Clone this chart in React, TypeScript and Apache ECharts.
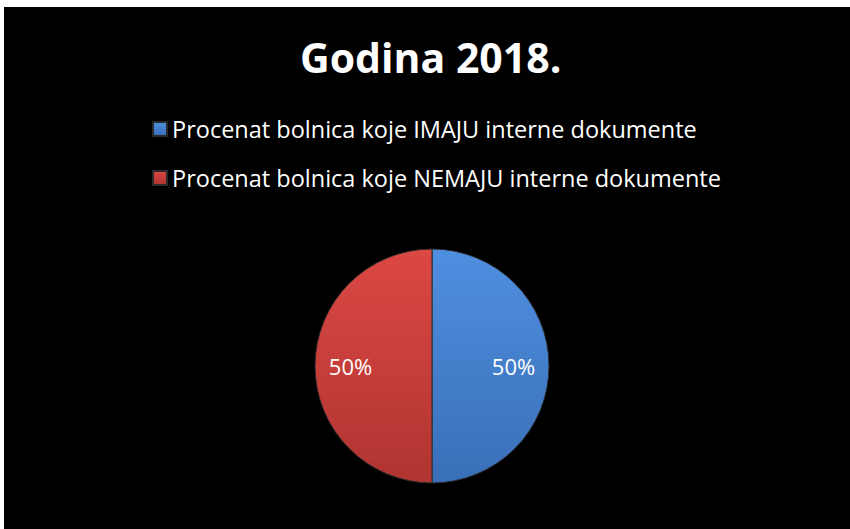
import React, { useEffect, useRef } from "react";
import * as echarts from "echarts";

const titleText = "Godina 2018.";
const categories = [
  "Procenat bolnica koje IMAJU interne dokumente",
  "Procenat bolnica koje NEMAJU interne dokumente",
];
const values = [50, 50];
const colorsTop = ["#4f8fe0", "#dc4844"];
const colorsBottom = ["#3a6fb8", "#b03431"];

export default function App() {
  const ref = useRef<HTMLDivElement>(null);
  useEffect(() => {
    document.body.style.margin = "0";
    const chart = echarts.init(ref.current!, null, { renderer: "svg" });
    const font = "Open Sans";
    const data = categories.map((name, i) => ({
      name,
      value: values[i],
      itemStyle: {
        color: new echarts.graphic.LinearGradient(0, 0, 0, 1, [
          { offset: 0, color: colorsTop[i] },
          { offset: 1, color: colorsBottom[i] },
        ]),
      },
    }));
    chart.setOption({
      animation: false,
      backgroundColor: "#ffffff",
      graphic: [
        {
          type: "rect",
          z: -10,
          silent: true,
          shape: { x: 4, y: 7, width: 846, height: 522 },
          style: { fill: "#000000" },
        },
      ],
      title: {
        text: titleText,
        left: 295,
        top: 31,
        textStyle: {
          color: "#ffffff",
          fontSize: 41,
          fontWeight: "bold",
          fontFamily: font,
        },
      },
      legend: {
        orient: "vertical",
        left: 147,
        top: 112,
        itemGap: 25,
        itemWidth: 14,
        itemHeight: 14,
        icon: "rect",
        data: categories,
        textStyle: { color: "#ffffff", fontSize: 23.5, fontFamily: font },
      },
      series: [
        {
          type: "pie",
          center: [432, 366],
          radius: [0, 117],
          startAngle: 90,
          clockwise: true,
          label: { show: false },
          labelLine: { show: false },
          itemStyle: { borderColor: "#2a2a2a", borderWidth: 1 },
          emphasis: { disabled: true },
          data,
        },
        {
          type: "pie",
          center: [432, 366],
          radius: [40, 117],
          startAngle: 90,
          clockwise: true,
          silent: true,
          z: 5,
          itemStyle: { color: "rgba(0,0,0,0)", borderWidth: 0 },
          label: {
            show: true,
            position: "inside",
            formatter: "{d}%",
            color: "#ffffff",
            fontSize: 22,
            fontFamily: font,
          },
          labelLine: { show: false },
          emphasis: { disabled: true },
          data: categories.map((name, i) => ({ name, value: values[i] })),
        },
      ],
    });
    return () => chart.dispose();
  }, []);
  return <div ref={ref} style={{ width: 850, height: 529 }} />;
}
